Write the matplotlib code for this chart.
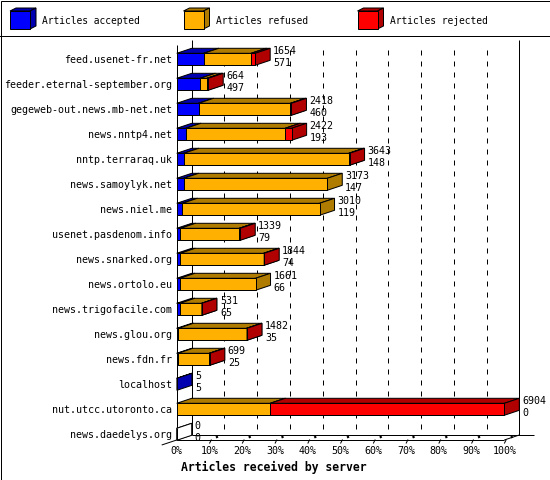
import matplotlib
matplotlib.use("Agg")
import matplotlib.pyplot as plt
from matplotlib.patches import Polygon, Rectangle

hosts = [
    "feed.usenet-fr.net",
    "feeder.eternal-september.org",
    "gegeweb-out.news.mb-net.net",
    "news.nntp4.net",
    "nntp.terraraq.uk",
    "news.samoylyk.net",
    "news.niel.me",
    "usenet.pasdenom.info",
    "news.snarked.org",
    "news.ortolo.eu",
    "news.trigofacile.com",
    "news.glou.org",
    "news.fdn.fr",
    "localhost",
    "nut.utcc.utoronto.ca",
    "news.daedelys.org",
]
offered = [1654, 664, 2418, 2422, 3643, 3173, 3010, 1339, 1844, 1661, 531, 1482, 699, 5, 6904, 0]
accepted = [571, 497, 460, 193, 148, 147, 119, 79, 74, 66, 65, 35, 25, 5, 0, 0]
refused = [1000, 140, 1938, 2093, 3480, 3026, 2891, 1240, 1759, 1595, 462, 1440, 662, 0, 1972, 0]
rejected = [83, 27, 20, 136, 15, 0, 0, 20, 11, 0, 4, 7, 12, 0, 4932, 0]

series_names = ["Articles accepted", "Articles refused", "Articles rejected"]
front_colors = ["#0000ff", "#ffb000", "#ff0000"]
dark_colors = ["#0000b0", "#b07c00", "#b00000"]
pct_ticks = list(range(0, 101, 10))
xlabel = "Articles received by server"

W, H = 550, 480
MONO = "DejaVu Sans Mono"
FS = 7.2
LW = 0.72

# front face of the plot, in pixels
px_left, px_right = 176.7, 504.3
px_top, px_floor = 45.0, 440.0
row0, row_step = 59.3, 25.0
depth_x, depth_y = 15.0, 5.0

fig = plt.figure(figsize=(W / 100, H / 100), dpi=100)

# background axes in pixel units for frame + legend
bg = fig.add_axes([0, 0, 1, 1])
bg.set_xlim(0, W)
bg.set_ylim(H, 0)
bg.axis("off")
bg.add_patch(Rectangle((0.5, 0.5), W - 1, H - 1, fill=False, ec="black", lw=LW))
bg.plot([0, W], [35.5, 35.5], color="black", lw=LW)

legend_x = [10, 183.5, 357.5]
for k, name in enumerate(series_names):
    x0, y0, w, h, dx, dy = legend_x[k], 11, 20, 18, 6, 3
    bg.add_patch(Polygon([(x0, y0), (x0 + w, y0), (x0 + w + dx, y0 - dy), (x0 + dx, y0 - dy)],
                         fc=dark_colors[k], ec="black", lw=LW))
    bg.add_patch(Polygon([(x0 + w, y0), (x0 + w, y0 + h), (x0 + w + dx, y0 + h - dy), (x0 + w + dx, y0 - dy)],
                         fc=dark_colors[k], ec="black", lw=LW))
    bg.add_patch(Rectangle((x0, y0), w, h, fc=front_colors[k], ec="black", lw=LW))
    bg.text(x0 + 32.5, 20.5, name, family=MONO, fontsize=FS * 0.96, va="center", ha="left")

bg.text(273.5, 467, xlabel, family=MONO, fontsize=8.3, fontweight="bold", ha="center", va="center")

# main axes: x in percent of the largest server, y in rows
ax = fig.add_axes([px_left / W, 1 - px_floor / H, (px_right - px_left) / W, (px_floor - px_top) / H])
ax.patch.set_visible(False)
ax.set_xlim(0, 100)
y_floor = (px_floor - row0) / row_step
y_top = (px_top - row0) / row_step
ax.set_ylim(y_floor, y_top)
for s in ax.spines.values():
    s.set_visible(False)

ddx = depth_x * 100 / (px_right - px_left)
ddy = -depth_y / row_step
half = 6 / row_step
px_x = 100 / (px_right - px_left)  # one pixel in x data units
px_y = 1 / row_step


def line(xs, ys, **kw):
    kw.setdefault("lw", LW)
    ax.plot(xs, ys, color="black", clip_on=False, solid_capstyle="butt", **kw)


# back wall and floor
y_back_top = y_top - 5 * px_y
y_back_floor = y_floor + ddy
line([0, 0], [y_top, y_floor])
line([ddx, ddx], [y_back_top, y_back_floor])
line([100 + ddx, 100 + ddx], [y_back_top, y_back_floor])
line([ddx, 100 + 2 * ddx], [y_back_floor, y_back_floor])
line([0, 100], [y_floor, y_floor])
line([-ddx, ddx], [y_floor - ddy, y_back_floor])
line([100, 100 + ddx], [y_floor, y_back_floor])
for t in pct_ticks[1:-1]:
    ax.plot([t + ddx, t + ddx], [y_back_top + 10 * px_y, y_back_floor], color="black", lw=LW,
            dashes=(5, 6), clip_on=False, zorder=1)
# little 3d tick marks on the floor
for t in pct_ticks[1:]:
    line([t, t + 2 * px_x], [y_floor + 3.5 * px_y, y_floor - 0.5 * px_y])
    line([t + 6.5 * px_x, t + 8.5 * px_x], [y_floor - 2.5 * px_y, y_floor - 3.5 * px_y], lw=LW * 2.2)


def box(row, a, b, fc, dc, z):
    yt, yb = row - half, row + half
    kw = dict(ec="black", lw=LW, clip_on=False, zorder=z, joinstyle="miter")
    ax.add_patch(Polygon([(a, yt), (b, yt), (b + ddx, yt + ddy), (a + ddx, yt + ddy)], fc=dc, **kw))
    ax.add_patch(Polygon([(b, yt), (b, yb), (b + ddx, yb + ddy), (b + ddx, yt + ddy)], fc=dc, **kw))
    ax.add_patch(Rectangle((a, yt), b - a, yb - yt, fc=fc, **kw))


scale = 100.0 / max(offered)
for i in range(len(hosts)):
    vals = [accepted[i], refused[i], rejected[i]]
    left = 0.0
    z = 3
    if sum(vals) == 0:
        box(i, 0, 0, "white", "white", z)
    for k, v in enumerate(vals):
        if v == 0:
            continue
        right = left + v * scale
        box(i, left, right, front_colors[k], dark_colors[k], z)
        left = right
        z += 1
    tx = offered[i] * scale + ddx + 3 * px_x
    ax.text(tx, i - 4.8 * px_y, str(offered[i]), family=MONO, fontsize=FS, va="baseline", clip_on=False)
    ax.text(tx, i + 6.6 * px_y, str(accepted[i]), family=MONO, fontsize=FS, va="baseline", clip_on=False)

ax.set_yticks(range(len(hosts)))
ax.set_yticklabels(hosts, family=MONO, fontsize=FS)
ax.set_xticks(pct_ticks)
ax.set_xticklabels([f"{t}%" for t in pct_ticks], family=MONO, fontsize=FS)
ax.tick_params(axis="y", length=0, pad=3.4)
ax.tick_params(axis="x", length=0, pad=4.5)

fig.savefig("out.png", dpi=100)
